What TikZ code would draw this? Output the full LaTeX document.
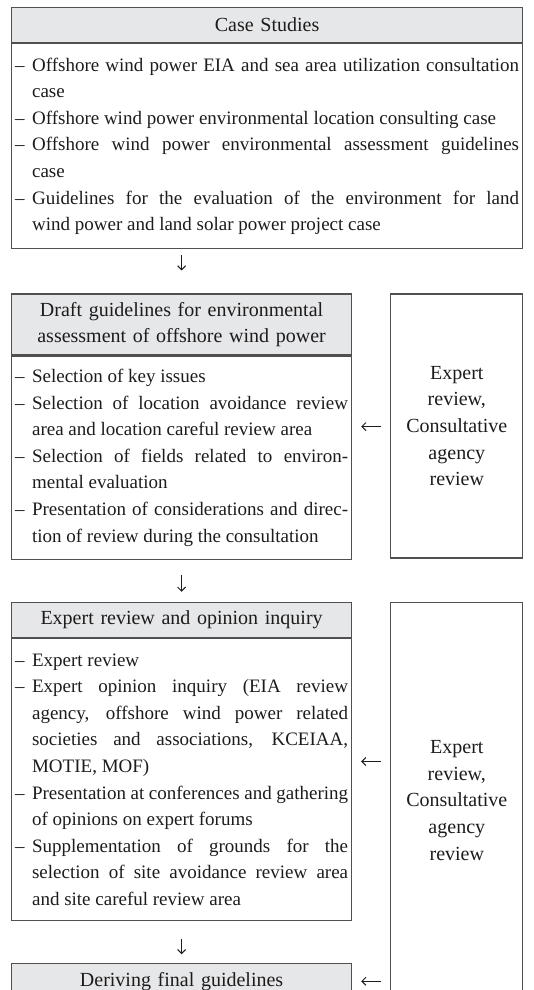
\documentclass[tikz,border=0pt]{standalone}
\usepackage{fontspec}
\setmainfont{Liberation Serif}
\usepackage{tikz}
\usetikzlibrary{positioning,arrows.meta,calc}
\definecolor{frame}{RGB}{80,80,80}
\definecolor{hdgray}{RGB}{230,231,232}
\definecolor{ink}{RGB}{30,27,28}
\newcommand{\itm}[1]{\noindent\hangindent=8.5pt\hangafter=1\makebox[8.5pt][l]{--}#1\par}

\begin{document}
\begin{tikzpicture}[text=ink,
  hd/.style={rectangle,draw=frame,line width=0.6pt,fill=hdgray,align=center,inner xsep=1.75pt,inner ysep=2pt,font=\fontsize{10}{13.3}\selectfont},
  bd/.style={rectangle,draw=frame,line width=0.6pt,align=justify,inner xsep=1.75pt,inner ysep=3pt,font=\fontsize{9.5}{13.3}\selectfont},
  rv/.style={rectangle,draw=frame,line width=0.6pt,align=center,minimum width=66pt,font=\fontsize{10}{13.3}\selectfont},
  ar/.style={-{Straight Barb[length=2pt,width=4pt]},ink,line width=0.5pt}]
  \useasboundingbox (0,0) rectangle (267pt,-495pt);
  \clip (0,0) rectangle (267pt,-495pt);
  \node[hd,text width=252pt,minimum height=17.5pt,anchor=north west](hdrA) at (5.5pt,-3.5pt){Case Studies};
  \node[bd,text width=252pt,minimum height=102.5pt,below=0pt of hdrA](cases){%
    \itm{Offshore wind power EIA and sea area utilization consultation\linebreak case}
    \itm{Offshore wind power environmental location consulting case}
    \itm{Offshore wind power environmental assessment guidelines\linebreak case}
    \itm{Guidelines for the evaluation of the environment for land\linebreak wind power and land solar power project case}};
  \node[hd,text width=166.5pt,minimum height=30.5pt,below right=22pt and 0pt of cases.south west](hdrB){Draft guidelines for environmental\\assessment of offshore wind power};
  \node[bd,text width=166.5pt,minimum height=101.5pt,below=0pt of hdrB](draft){%
    \itm{Selection of key issues}
    \itm{Selection of location avoidance review\linebreak area and location careful review area}
    \itm{Selection of fields related to environ-\linebreak mental evaluation}
    \itm{Presentation of considerations and direc-\linebreak tion of review during the consultation}};
  \node[rv,minimum height=132pt,right=19pt of hdrB.north east,anchor=north west](revA){Expert\\review,\\Consultative\\agency\\review};
  \node[hd,text width=166.5pt,minimum height=17.5pt,below right=21pt and 0pt of draft.south west](hdrC){Expert review and opinion inquiry};
  \node[bd,text width=166.5pt,minimum height=141pt,below=0pt of hdrC](inquiry){%
    \itm{Expert review}
    \itm{Expert opinion inquiry (EIA review\linebreak agency, offshore wind power related\linebreak societies and associations, KCEIAA,\linebreak MOTIE, MOF)}
    \itm{Presentation at conferences and gathering\linebreak of opinions on expert forums}
    \itm{Supplementation of grounds for the\linebreak selection of site avoidance review area\linebreak and site careful review area}};
  \node[rv,minimum height=198pt,right=19pt of hdrC.north east,anchor=north west](revB){Expert\\review,\\Consultative\\agency\\review};
  \node[hd,text width=166.5pt,minimum height=17.5pt,below right=21pt and 0pt of inquiry.south west](final){Deriving final guidelines};
  \coordinate (mB) at ($(hdrB.north east)!.5!(draft.south east)$);
  \coordinate (mC) at ($(hdrC.north east)!.5!(inquiry.south east)$);
  \draw[ar,shorten <=3pt,shorten >=11.5pt](cases.south -| hdrB)--(hdrB);
  \draw[ar,shorten <=7.5pt,shorten >=5pt](draft)--(hdrC);
  \draw[ar,shorten <=9pt,shorten >=4.5pt](inquiry)--(final);
  \draw[ar,shorten <=4.5pt,shorten >=4.5pt](revA.west |- mB)--(mB);
  \draw[ar,shorten <=4.5pt,shorten >=4.5pt](revB.west |- mC)--(mC);
  \draw[ar,shorten <=4.5pt,shorten >=4.5pt](revB.west |- final.east)--(final.east);
\end{tikzpicture}
\end{document}
